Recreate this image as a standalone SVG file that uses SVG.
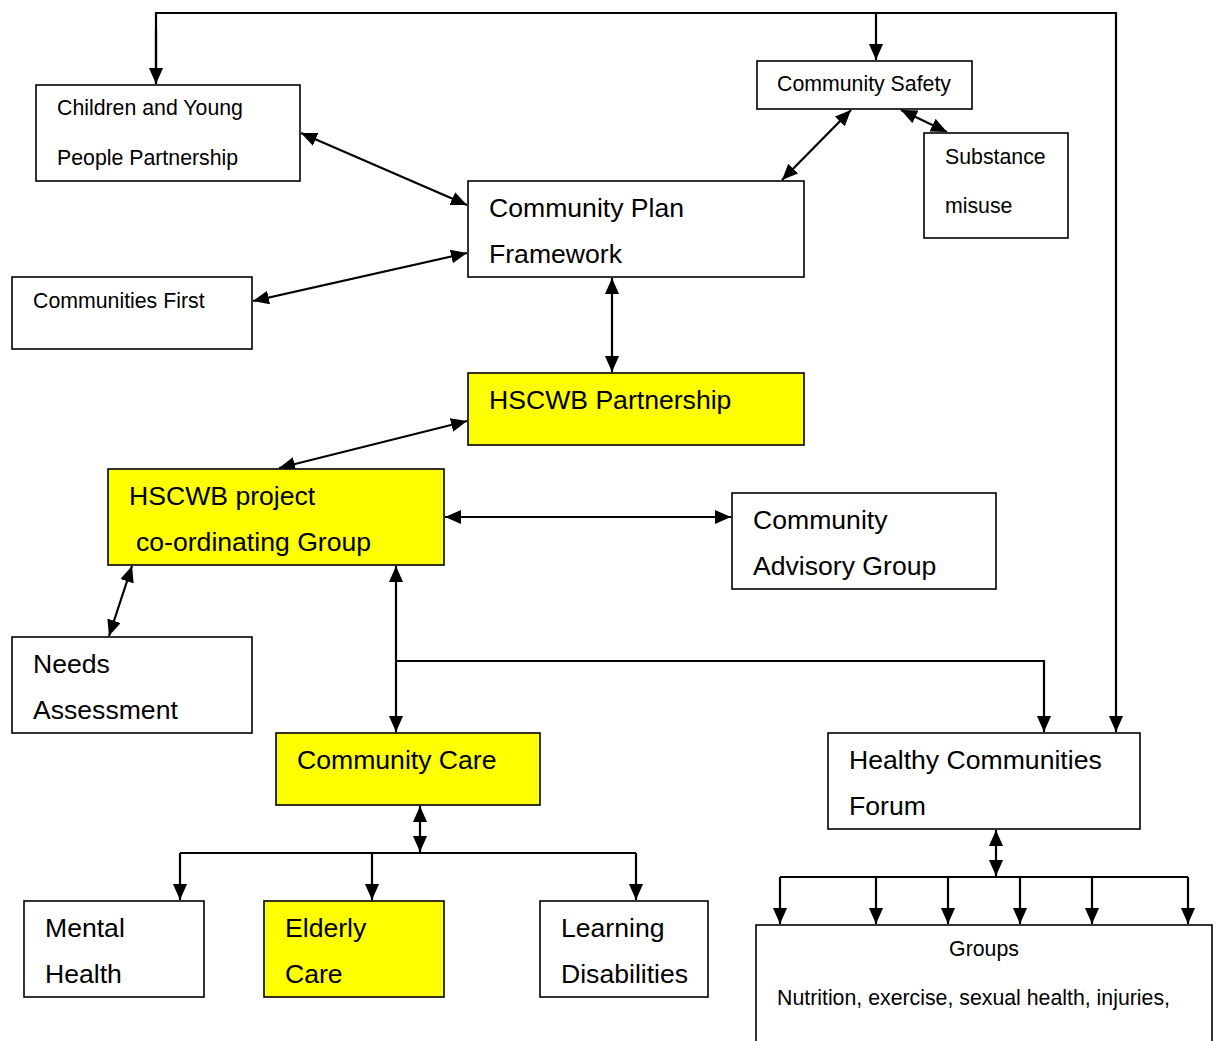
<svg xmlns="http://www.w3.org/2000/svg" width="1219" height="1041" viewBox="0 0 1219 1041">
<style>
.box{fill:#fff;stroke:#000;stroke-width:1.6}
.y{fill:#ffff00}
.s{font-family:"Liberation Sans",Arial,sans-serif;font-size:21.3px;fill:#000}
.l{font-family:"Liberation Sans",Arial,sans-serif;font-size:26.6px;fill:#000}
.c{fill:none;stroke:#000;stroke-width:2.2}
.a{marker-end:url(#ah)}
.b{marker-start:url(#ah);marker-end:url(#ah)}
</style>
<defs>
<marker id="ah" markerUnits="userSpaceOnUse" markerWidth="17" markerHeight="15" refX="16" refY="7" orient="auto-start-reverse">
<path d="M0,0 L16,7 L0,14 z" fill="#000"/>
</marker>
</defs>
<rect width="1219" height="1041" fill="#fff"/>
<g id="connectors">
<polyline class="c a" points="156,84 156,13 1116,13 1116,732"/>
<path class="c a" d="M156,30 L156,84"/>
<path class="c a" d="M876,13 L876,60"/>
<path class="c b" d="M301,133 L467,205"/>
<path class="c b" d="M253,301 L467,253"/>
<path class="c b" d="M782,180 L851,110"/>
<path class="c b" d="M901,110 L947,132"/>
<path class="c b" d="M612,278 L612,372"/>
<path class="c b" d="M467,421 L279,468"/>
<path class="c b" d="M445,517 L731,517"/>
<path class="c b" d="M132,566 L109,636"/>
<path class="c b" d="M396,566 L396,732"/>
<polyline class="c a" points="396,661 1044,661 1044,732"/>
<path class="c b" d="M420,806 L420,852"/>
<polyline class="c" points="180,853 636,853"/>
<path class="c a" d="M180,853 L180,900"/>
<path class="c a" d="M372,853 L372,900"/>
<path class="c a" d="M636,853 L636,900"/>
<path class="c b" d="M996,830 L996,876"/>
<polyline class="c" points="780,877 1188,877"/>
<path class="c a" d="M780,877 L780,924"/>
<path class="c a" d="M876,877 L876,924"/>
<path class="c a" d="M948,877 L948,924"/>
<path class="c a" d="M1020,877 L1020,924"/>
<path class="c a" d="M1092,877 L1092,924"/>
<path class="c a" d="M1188,877 L1188,924"/>
</g>
<g id="cypp"><rect class="box" x="36" y="85" width="264" height="96"/><text class="s" x="57" y="115">Children and Young</text><text class="s" x="57" y="165">People Partnership</text></g>
<g id="safety"><rect class="box" x="757" y="61" width="215" height="48"/><text class="s" x="777" y="91">Community Safety</text></g>
<g id="substance"><rect class="box" x="924" y="133" width="144" height="105"/><text class="s" x="945" y="164">Substance</text><text class="s" x="945" y="213">misuse</text></g>
<g id="cpf"><rect class="box" x="468" y="181" width="336" height="96"/><text class="l" x="489" y="217">Community Plan</text><text class="l" x="489" y="263">Framework</text></g>
<g id="cfirst"><rect class="box" x="12" y="277" width="240" height="72"/><text class="s" x="33" y="308">Communities First</text></g>
<g id="hscwbp"><rect class="box y" x="468" y="373" width="336" height="72"/><text class="l" x="489" y="409">HSCWB Partnership</text></g>
<g id="hscwbg"><rect class="box y" x="108" y="469" width="336" height="96"/><text class="l" x="129" y="505">HSCWB project</text><text class="l" x="136" y="551">co-ordinating Group</text></g>
<g id="cag"><rect class="box" x="732" y="493" width="264" height="96"/><text class="l" x="753" y="529">Community</text><text class="l" x="753" y="575">Advisory Group</text></g>
<g id="needs"><rect class="box" x="12" y="637" width="240" height="96"/><text class="l" x="33" y="673">Needs</text><text class="l" x="33" y="719">Assessment</text></g>
<g id="ccare"><rect class="box y" x="276" y="733" width="264" height="72"/><text class="l" x="297" y="769">Community Care</text></g>
<g id="hcf"><rect class="box" x="828" y="733" width="312" height="96"/><text class="l" x="849" y="769">Healthy Communities</text><text class="l" x="849" y="815">Forum</text></g>
<g id="mental"><rect class="box" x="24" y="901" width="180" height="96"/><text class="l" x="45" y="937">Mental</text><text class="l" x="45" y="983">Health</text></g>
<g id="elderly"><rect class="box y" x="264" y="901" width="180" height="96"/><text class="l" x="285" y="937">Elderly</text><text class="l" x="285" y="983">Care</text></g>
<g id="learning"><rect class="box" x="540" y="901" width="168" height="96"/><text class="l" x="561" y="937">Learning</text><text class="l" x="561" y="983">Disabilities</text></g>
<g id="groups"><rect class="box" x="756" y="925" width="456" height="130"/><text class="s" x="984" y="956" text-anchor="middle">Groups</text><text class="s" x="777" y="1005">Nutrition, exercise, sexual health, injuries,</text></g>
</svg>
